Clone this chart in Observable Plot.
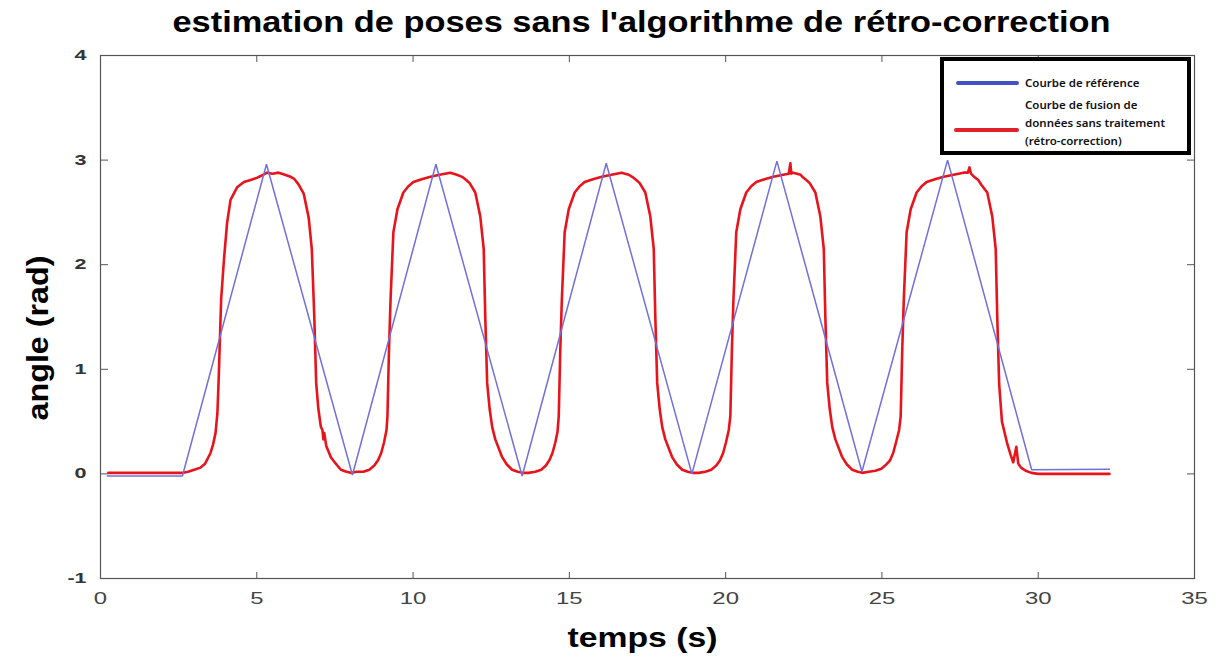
<!DOCTYPE html>
<html>
<head>
<meta charset="utf-8">
<script src="https://cdn.jsdelivr.net/npm/d3@7"></script>
<script src="https://cdn.jsdelivr.net/npm/@observablehq/plot@0.6"></script>
<style>
  body { margin: 0; background: #fff; }
  #wrap { position: relative; width: 1221px; height: 662px; }
  #legend {
    position: absolute; left: 940px; top: 57px; width: 243px; height: 90px;
    border: 4px solid #000; background: #fff;
    font-family: "Noto Sans", "Liberation Sans", sans-serif; font-size: 11.5px; font-weight: 600; color: #111;
  }
  .sw { position: absolute; height: 4px; border-radius: 2px; }
  .lt { position: absolute; white-space: nowrap; line-height: 18px; }
</style>
</head>
<body>
<div id="wrap"></div>
<script>
// ---- data ----
const blueTime  = [0.22, 2.62, 5.31, 8.06, 10.73, 13.49, 16.18, 18.92, 21.64, 24.36, 27.10, 29.79, 32.28];
const blueAngle = [-0.02, -0.02, 2.96, -0.01, 2.96, -0.02, 2.97, 0.00, 2.99, 0.02, 3.00, 0.04, 0.045];

const redTime = [
  0.25, 1.00, 2.00, 2.65, 2.80, 3.00, 3.20, 3.35, 3.52, 3.60, 3.68, 3.74, 3.78, 3.81, 3.86, 3.95, 4.05, 4.16, 4.37, 4.59, 4.80, 5.00, 5.14, 5.33, 5.50, 5.70, 5.90, 6.08, 6.20, 6.33, 6.50, 6.66, 6.76, 6.84, 6.90, 6.97, 7.05, 7.10, 7.13, 7.16, 7.22, 7.37, 7.52, 7.69, 7.87, 8.01, 8.20,
  8.41, 8.60, 8.76, 8.88, 8.98, 9.07, 9.15, 9.18, 9.23, 9.28, 9.37, 9.50, 9.69, 9.85, 10.01, 10.30, 10.56, 10.85, 11.19, 11.40, 11.57, 11.70, 11.81, 11.99, 12.15, 12.26, 12.31, 12.37, 12.45, 12.53, 12.63, 12.85, 13.00, 13.17, 13.35, 13.49, 13.70,
  13.91, 14.10, 14.25, 14.36, 14.46, 14.55, 14.62, 14.66, 14.71, 14.76, 14.85, 14.98, 15.17, 15.33, 15.49, 15.78, 16.04, 16.35, 16.67, 16.90, 17.01, 17.14, 17.25, 17.43, 17.59, 17.70, 17.75, 17.81, 17.89, 17.97, 18.07, 18.29, 18.44, 18.61, 18.79, 18.93, 19.14,
  19.35, 19.54, 19.70, 19.82, 19.92, 20.01, 20.10, 20.15, 20.20, 20.25, 20.34, 20.47, 20.66, 20.82, 20.98, 21.27, 21.53, 21.84, 22.02, 22.07, 22.10, 22.16, 22.40, 22.45, 22.58, 22.69, 22.87, 23.03, 23.14, 23.19, 23.25, 23.33, 23.41, 23.51, 23.73, 23.88, 24.05, 24.23, 24.37, 24.58,
  24.79, 24.98, 25.14, 25.26, 25.36, 25.45, 25.55, 25.60, 25.65, 25.70, 25.79, 25.92, 26.11, 26.27, 26.43, 26.72, 26.98, 27.29, 27.61, 27.75, 27.80, 27.85, 27.95, 28.08, 28.19, 28.37, 28.53, 28.64, 28.69, 28.75, 28.84, 29.00, 29.12, 29.20, 29.30, 29.36, 29.45, 29.60, 29.78, 30.00, 31.00, 32.28
];
const redAngle = [
  0.01, 0.01, 0.01, 0.01, 0.02, 0.04, 0.06, 0.10, 0.20, 0.28, 0.39, 0.58, 0.90, 1.19, 1.67, 2.05, 2.40, 2.62, 2.74, 2.79, 2.81, 2.83, 2.85, 2.88, 2.87, 2.88, 2.86, 2.84, 2.82, 2.77, 2.68, 2.45, 2.15, 1.50, 0.87, 0.62, 0.45, 0.42, 0.33, 0.39, 0.27, 0.16, 0.10, 0.04, 0.02, 0.01, 0.02,
  0.02, 0.04, 0.08, 0.13, 0.20, 0.30, 0.42, 0.55, 1.19, 1.67, 2.31, 2.53, 2.69, 2.75, 2.79, 2.82, 2.84, 2.86, 2.88, 2.86, 2.84, 2.81, 2.78, 2.69, 2.46, 2.15, 1.50, 0.87, 0.62, 0.45, 0.33, 0.16, 0.09, 0.04, 0.02, 0.01, 0.01,
  0.02, 0.04, 0.08, 0.13, 0.20, 0.30, 0.40, 0.55, 1.19, 1.67, 2.31, 2.53, 2.69, 2.75, 2.79, 2.82, 2.84, 2.86, 2.88, 2.86, 2.84, 2.81, 2.78, 2.69, 2.46, 2.15, 1.50, 0.87, 0.62, 0.45, 0.33, 0.16, 0.09, 0.04, 0.02, 0.01, 0.01,
  0.02, 0.04, 0.08, 0.13, 0.20, 0.30, 0.42, 0.55, 1.19, 1.67, 2.31, 2.53, 2.69, 2.75, 2.79, 2.82, 2.84, 2.86, 2.87, 2.97, 2.87, 2.88, 2.86, 2.84, 2.81, 2.78, 2.69, 2.46, 2.15, 1.50, 0.87, 0.62, 0.45, 0.33, 0.16, 0.09, 0.04, 0.02, 0.01, 0.02,
  0.03, 0.05, 0.09, 0.13, 0.20, 0.30, 0.42, 0.55, 1.19, 1.67, 2.31, 2.53, 2.69, 2.75, 2.79, 2.82, 2.84, 2.86, 2.88, 2.88, 2.93, 2.87, 2.84, 2.81, 2.76, 2.69, 2.46, 2.15, 1.50, 0.86, 0.50, 0.30, 0.18, 0.11, 0.26, 0.10, 0.06, 0.03, 0.01, 0.00, 0.00, 0.00
];

const xTicks = [0, 5, 10, 15, 20, 25, 30, 35];
const yTicks = [-1, 0, 1, 2, 3, 4];
const titleText = "estimation de poses sans l'algorithme de rétro-correction";
const xLabel = "temps (s)";
const yLabel = "angle (rad)";
const seriesNames = ["Courbe de référence", "Courbe de fusion de données sans traitement (rétro-correction)"];

const blue = blueTime.map((t, i) => ({t, v: blueAngle[i]}));
const red = redTime.map((t, i) => ({t, v: redAngle[i]}));

const tickColor = "#555";
const fmt = d => String(d);
const chart = Plot.plot({
  width: 1221, height: 662,
  marginLeft: 100, marginRight: 27, marginTop: 55, marginBottom: 84,
  style: {fontFamily: "'Liberation Sans', Arial, sans-serif", fontSize: "17px", color: "#333", background: "#fff"},
  x: {domain: [0, 35]},
  y: {domain: [-1, 4]},
  marks: [
    Plot.frame({stroke: tickColor, strokeWidth: 1.2}),
    Plot.axisX(xTicks, {anchor: "bottom", tickSize: -6, tickPadding: 19, tickFormat: fmt, label: null, stroke: tickColor, fill: "#444", className: "xt"}),
    Plot.axisX(xTicks, {anchor: "top", tickSize: -6, tickFormat: () => "", label: null, stroke: tickColor}),
    Plot.axisY(yTicks, {anchor: "left", tickSize: -8, tickPadding: 22, tickFormat: fmt, label: null, stroke: tickColor, fill: "#333", fontWeight: "bold", fontSize: 14, className: "yt"}),
    Plot.axisY(yTicks, {anchor: "right", tickSize: -8, tickFormat: () => "", label: null, stroke: tickColor}),
    Plot.line(red, {x: "t", y: "v", stroke: "#e8141c", strokeWidth: 2.6, strokeLinejoin: "round", strokeLinecap: "round"}),
    Plot.line(blue, {x: "t", y: "v", stroke: "#7070dd", strokeWidth: 1.5, strokeLinejoin: "miter"}),
    Plot.text([titleText], {frameAnchor: "top", dy: -33, dx: -6, lineAnchor: "middle", fontSize: 30, fontWeight: "bold", fill: "#000", className: "ttl"}),
    Plot.text([xLabel], {frameAnchor: "bottom", dy: 60, dx: -5, lineAnchor: "middle", fontSize: 28, fontWeight: "bold", fill: "#000", className: "xl"})
  ]
});
document.getElementById("wrap").appendChild(chart);
// stretch title/labels to measured widths
[["ttl", 938], ["xl", 150]].forEach(([c, w]) => {
  d3.select(chart).selectAll("g." + c + " text").attr("textLength", w).attr("lengthAdjust", "spacingAndGlyphs");
});
// widen tick label glyphs like the reference
d3.select(chart).selectAll("g.xt text").each(function() {
  const s = this.textContent; if (s) d3.select(this).attr("textLength", 13.3 * s.length).attr("lengthAdjust", "spacingAndGlyphs");
});
d3.select(chart).selectAll("g.yt text").each(function() {
  const s = this.textContent; if (s) d3.select(this).attr("textLength", s.length > 1 ? 19 : 12).attr("lengthAdjust", "spacingAndGlyphs");
});
// y-axis label as SVG text
d3.select(chart).append("text")
  .attr("transform", "translate(38,338) rotate(-90)")
  .attr("text-anchor", "middle").attr("dominant-baseline", "central")
  .attr("font-size", 29).attr("font-weight", "bold").attr("fill", "#000")
  .attr("textLength", 165).attr("lengthAdjust", "spacingAndGlyphs")
  .text(yLabel);

// legend
const lg = document.createElement("div");
lg.id = "legend";
lg.innerHTML = `
  <div class="sw" style="left:12px; top:20px; width:63px; background:#4451c6"></div>
  <div class="lt" style="left:81px; top:13px">${seriesNames[0]}</div>
  <div class="sw" style="left:10px; top:67px; width:65px; background:#e0202a"></div>
  <div class="lt" style="left:81px; top:35px">Courbe de fusion de<br>données sans traitement<br>(rétro-correction)</div>`;
document.getElementById("wrap").appendChild(lg);
</script>
</body>
</html>
